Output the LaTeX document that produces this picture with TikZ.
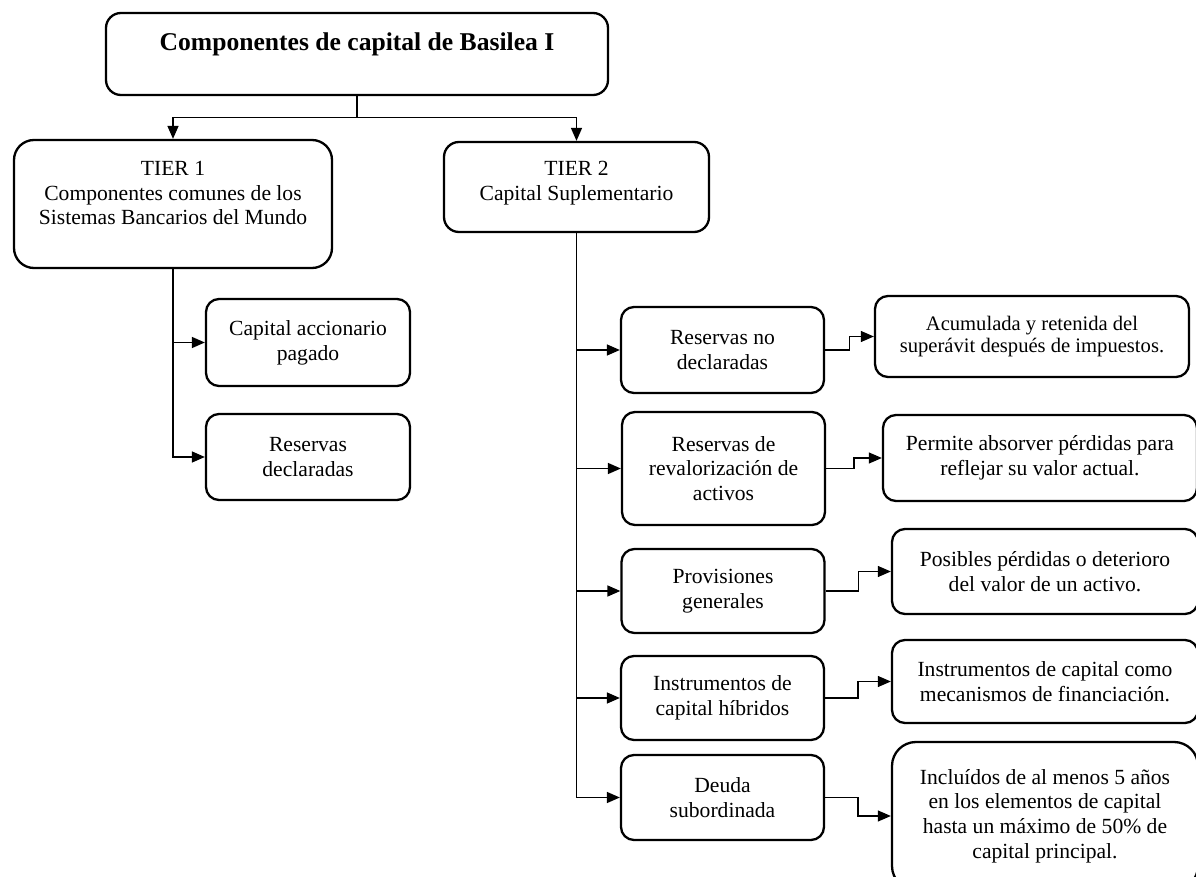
\documentclass[tikz,border=0pt]{standalone}
\usepackage{fontspec}
\setmainfont{Liberation Serif}
\usetikzlibrary{arrows.meta,calc}
\tikzset{
  box/.style={draw, line width=1.15pt, rounded corners=6.5pt, align=center,
    inner sep=0pt, font=\fontsize{10.8}{12.4}\selectfont},
  plaintext/.style={inner sep=0pt, align=center, font=\fontsize{10.8}{12.4}\selectfont},
  titletext/.style={inner sep=0pt, align=center, font=\bfseries\fontsize{12.8}{14.7}\selectfont},
  conn/.style={line width=0.75pt, -{Triangle[length=6.5pt,width=5.5pt]}},
  sideconn/.style={line width=0.55pt, -{Triangle[length=6.5pt,width=5.5pt]}},
}
\begin{document}
\begin{tikzpicture}[x=0.5pt,y=-0.5pt]
\useasboundingbox (0,0) rectangle (1196,877);
\clip (0,0) rectangle (1196,877);

% heading box
\node[box, minimum width=251pt, minimum height=41pt, rounded corners=7.5pt] (title) at (357,54) {};
\node[titletext, anchor=north] (titleT) at (357,32.5) {Componentes de capital de Basilea I};

% the two tiers
\node[box, minimum width=159pt, minimum height=64pt, rounded corners=10pt] (t1) at (173,204) {};
\node[plaintext, anchor=north] (t1T) at (173,160.7) {TIER 1\\Componentes comunes de los\\Sistemas Bancarios del Mundo};
\node[box, minimum width=132.5pt, minimum height=45pt, rounded corners=7.5pt] (t2) at (576.5,187) {};
\node[plaintext, anchor=north] (t2T) at (576.5,160.7) {TIER 2\\Capital Suplementario};

% tier 1 components
\node[box, minimum width=102pt, minimum height=43.5pt] (a1) at (308,342.5) {Capital accionario\\pagado};
\node[box, minimum width=102pt, minimum height=43pt] (a2) at (308,457) {Reservas\\declaradas};

% tier 2 components
\node[box, minimum width=101.5pt, minimum height=43pt] (b1) at (722.5,350) {Reservas no\\declaradas};
\node[box, minimum width=101.5pt, minimum height=56.5pt] (b2) at (723.5,468.5) {Reservas de\\revalorización de\\activos};
\node[box, minimum width=101.5pt, minimum height=42pt] (b3) at (723,591) {Provisiones\\generales};
\node[box, minimum width=101.5pt, minimum height=42pt] (b4) at (722.5,698) {Instrumentos de\\capital híbridos};
\node[box, minimum width=101.5pt, minimum height=42.5pt] (b5) at (722.5,797.5) {Deuda\\subordinada};

% descriptions
\node[box, minimum width=157pt, minimum height=40.5pt, font=\fontsize{10.3}{10.6}\selectfont] (c1) at (1032,336.5) {Acumulada y retenida del\\superávit después de impuestos.};
\node[box, minimum width=157pt, minimum height=43pt] (c2) at (1040,458) {Permite absorver pérdidas para\\reflejar su valor actual.};
\node[box, minimum width=153pt, minimum height=42.5pt] (c3) at (1045,571.5) {Posibles pérdidas o deterioro\\del valor de un activo.};
\node[box, minimum width=153pt, minimum height=41.5pt] (c4) at (1045,681.5) {Instrumentos de capital como\\mecanismos de financiación.};
\node[box, minimum width=153pt, minimum height=74pt, rounded corners=12pt] (c5) at (1045,816) {Incluídos de al menos 5 años\\en los elementos de capital\\hasta un máximo de 50\% de\\capital principal.};

% heading to tiers
\coordinate (topmid) at ($(title.south)!.5!(t1.north)$);
\draw[conn] (title.south) -- (title.south |- topmid) -| (t1.north);
\draw[conn] (title.south) -- (title.south |- topmid) -| (t2.north);

% tier 1 trunk
\draw[conn] (t1.south) |- (a1.west);
\draw[conn] (t1.south) |- (a2.west);

% tier 2 trunk and descriptions
\foreach \i in {1,...,5}{
  \draw[conn] (t2.south) |- (b\i.west);
  \draw[sideconn] (b\i.east) -| ($(b\i.east)!.5!(c\i.west)$) |- (c\i.west);
}
\end{tikzpicture}
\end{document}
